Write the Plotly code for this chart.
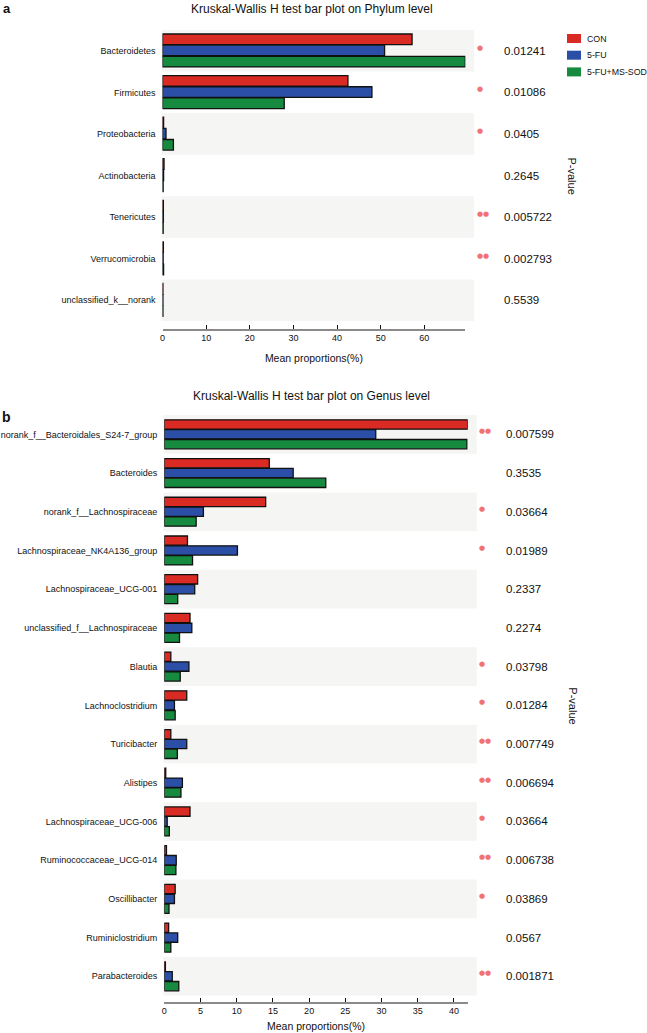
import plotly.graph_objects as go

W, H = 647, 1033

# ---------------- data ----------------
groups = ["CON", "5-FU", "5-FU+MS-SOD"]
group_colors = ["#DA2A24", "#2B4FA6", "#168A3E"]

phylum = ["Bacteroidetes", "Firmicutes", "Proteobacteria", "Actinobacteria",
          "Tenericutes", "Verrucomicrobia", "unclassified_k__norank"]
phylum_con = [57.2, 42.5, 0.25, 0.35, 0.2, 0.2, 0.1]
phylum_5fu = [50.9, 48.0, 0.8, 0.25, 0.2, 0.15, 0.1]
phylum_sod = [69.4, 27.9, 2.5, 0.15, 0.15, 0.25, 0.1]
phylum_p = ["0.01241", "0.01086", "0.0405", "0.2645", "0.005722", "0.002793", "0.5539"]

genus = ["norank_f__Bacteroidales_S24-7_group", "Bacteroides", "norank_f__Lachnospiraceae",
         "Lachnospiraceae_NK4A136_group", "Lachnospiraceae_UCG-001",
         "unclassified_f__Lachnospiraceae", "Blautia", "Lachnoclostridium", "Turicibacter",
         "Alistipes", "Lachnospiraceae_UCG-006", "Ruminococcaceae_UCG-014", "Oscillibacter",
         "Ruminiclostridium", "Parabacteroides"]
genus_con = [41.9, 14.5, 14.0, 3.2, 4.6, 3.55, 0.9, 3.1, 0.9, 0.2, 3.55, 0.3, 1.5, 0.6, 0.15]
genus_5fu = [29.2, 17.8, 5.4, 10.1, 4.2, 3.8, 3.4, 1.4, 3.1, 2.5, 0.4, 1.65, 1.4, 1.85, 1.1]
genus_sod = [41.8, 22.3, 4.4, 3.9, 1.85, 2.1, 2.2, 1.5, 1.8, 2.3, 0.7, 1.6, 0.65, 0.9, 2.0]
genus_p = ["0.007599", "0.3535", "0.03664", "0.01989", "0.2337", "0.2274", "0.03798", "0.01284",
           "0.007749", "0.006694", "0.03664", "0.006738", "0.03869", "0.0567", "0.001871"]

phylum_ticks = [0, 10, 20, 30, 40, 50, 60]
genus_ticks = [0, 5, 10, 15, 20, 25, 30, 35, 40]

FONT = "Arial, Liberation Sans, sans-serif"
BAND = "#F5F5F4"
STAR = "#F07272"


def px_x(p):
    return p / W


def px_y(p):
    return 1 - p / H


fig = go.Figure()
shapes = []
annotations = []

panels = [
    dict(ax="", cats=phylum, series=[phylum_con, phylum_5fu, phylum_sod], pvals=phylum_p,
         ticks=phylum_ticks, x0=162.5, x1=465.3, top=30, bottom=321, axis_y=329.5,
         band_end=474, star_x=474.5, p_x=501.5, pv_x=572, title_y=9, standoff=12,
         title="Kruskal-Wallis H test bar plot on Phylum level",
         step=0.269, bw=0.255, start=-0.404),
    dict(ax="2", cats=genus, series=[genus_con, genus_5fu, genus_sod], pvals=genus_p,
         ticks=genus_ticks, x0=164.3, x1=467.7, top=415, bottom=995.7, axis_y=1002.5,
         band_end=476.7, star_x=477, p_x=504, pv_x=573, title_y=396, standoff=7,
         title="Kruskal-Wallis H test bar plot on Genus level",
         step=0.254, bw=0.24, start=-0.375),
]

layout_axes = {}
for pn in panels:
    xa = "x" + pn["ax"]
    ya = "y" + pn["ax"]
    cats = pn["cats"]
    n = len(cats)
    xmax = max(max(s) for s in pn["series"])
    for k, (g, col, vals) in enumerate(zip(groups, group_colors, pn["series"])):
        fig.add_trace(go.Bar(
            y=cats, x=vals, name=g, orientation="h",
            width=pn["bw"], offset=pn["start"] + k * pn["step"],
            marker=dict(color=col, line=dict(color="#111111", width=1.3)),
            xaxis=xa, yaxis=ya, showlegend=False, hoverinfo="x+y",
        ))
    # alternate background bands
    for i in range(0, n, 2):
        shapes.append(dict(type="rect", xref="paper", yref=ya,
                           x0=px_x(pn["x0"] - 1), x1=px_x(pn["band_end"]),
                           y0=i - 0.5, y1=i + 0.5, fillcolor=BAND,
                           line=dict(width=0), layer="below"))
    # p-values and significance marks
    for c, p in zip(cats, pn["pvals"]):
        pv = float(p)
        annotations.append(dict(xref="paper", yref=ya, x=px_x(pn["p_x"]), y=c,
                                text=p, showarrow=False, xanchor="left", yanchor="middle",
                                font=dict(family=FONT, size=11.5, color="#111")))
        nstar = 2 if pv < 0.01 else (1 if pv < 0.05 else 0)
        if nstar:
            annotations.append(dict(xref="paper", yref=ya, x=px_x(pn["star_x"]), y=c,
                                    yshift=3, text="●" * nstar, showarrow=False,
                                    xanchor="left", yanchor="middle",
                                    font=dict(family="DejaVu Sans", size=7, color=STAR)))
    # title
    annotations.append(dict(xref="paper", yref="paper", x=px_x(311.5), y=px_y(pn["title_y"]),
                            text=pn["title"], showarrow=False, xanchor="center",
                            yanchor="middle", font=dict(family=FONT, size=12, color="#111")))
    # P-value label
    yc = (pn["top"] + pn["bottom"]) / 2
    annotations.append(dict(xref="paper", yref="paper", x=px_x(pn["pv_x"]), y=px_y(yc),
                            text="P-value", textangle=90, showarrow=False,
                            xanchor="center", yanchor="middle",
                            font=dict(family=FONT, size=11, color="#111")))

    tickvals = pn["ticks"] + [xmax]
    ticktext = [str(t) for t in pn["ticks"]] + [""]
    key = "xaxis" + pn["ax"]
    layout_axes[key] = dict(
        domain=[px_x(pn["x0"]), px_x(pn["x1"])], range=[0, xmax],
        anchor="free", position=px_y(pn["axis_y"]), automargin=False,
        showline=True, linecolor="#8A8A8A", linewidth=1.5,
        ticks="inside", ticklen=4, tickwidth=1.3, tickcolor="#111",
        tickvals=tickvals, ticktext=ticktext, showgrid=False, zeroline=False,
        tickfont=dict(family=FONT, size=9, color="#111"),
        title=dict(text="Mean proportions(%)", standoff=pn["standoff"],
                   font=dict(family=FONT, size=10.5, color="#111")),
    )
    layout_axes["yaxis" + pn["ax"]] = dict(
        domain=[px_y(pn["bottom"]), px_y(pn["top"])], automargin=False,
        type="category", categoryorder="array", categoryarray=cats,
        range=[n - 0.5, -0.5], anchor=xa, showline=False, ticks="",
        showgrid=False, zeroline=False, ticklabelstandoff=6,
        tickfont=dict(family=FONT, size=9, color="#111"),
    )

# manual legend (panel a)
for k, (g, col) in enumerate(zip(groups, group_colors)):
    yt = 34 + k * 16.7
    shapes.append(dict(type="rect", xref="paper", yref="paper",
                       x0=px_x(567), x1=px_x(581), y0=px_y(yt), y1=px_y(yt + 9),
                       fillcolor=col, line=dict(width=0)))
    annotations.append(dict(xref="paper", yref="paper", x=px_x(585), y=px_y(yt + 4.5),
                            text=g, showarrow=False, xanchor="left", yanchor="middle",
                            font=dict(family=FONT, size=8.8, color="#111")))

# panel letters
annotations.append(dict(xref="paper", yref="paper", x=px_x(1), y=px_y(8), text="<b>a</b>",
                        showarrow=False, xanchor="left", yanchor="middle",
                        font=dict(family=FONT, size=13, color="#111")))
annotations.append(dict(xref="paper", yref="paper", x=px_x(0), y=px_y(417), text="<b>b</b>",
                        showarrow=False, xanchor="left", yanchor="middle",
                        font=dict(family=FONT, size=14, color="#111")))

fig.update_layout(
    width=W, height=H, margin=dict(l=0, r=0, t=0, b=0, autoexpand=False),
    paper_bgcolor="white", plot_bgcolor="rgba(0,0,0,0)",
    barmode="overlay", showlegend=False,
    shapes=shapes, annotations=annotations,
    font=dict(family=FONT, color="#111"),
    **layout_axes,
)

fig.write_html("out.html", config={"displayModeBar": False},
               post_script="document.body.style.margin='0';document.body.style.overflow='hidden';")
